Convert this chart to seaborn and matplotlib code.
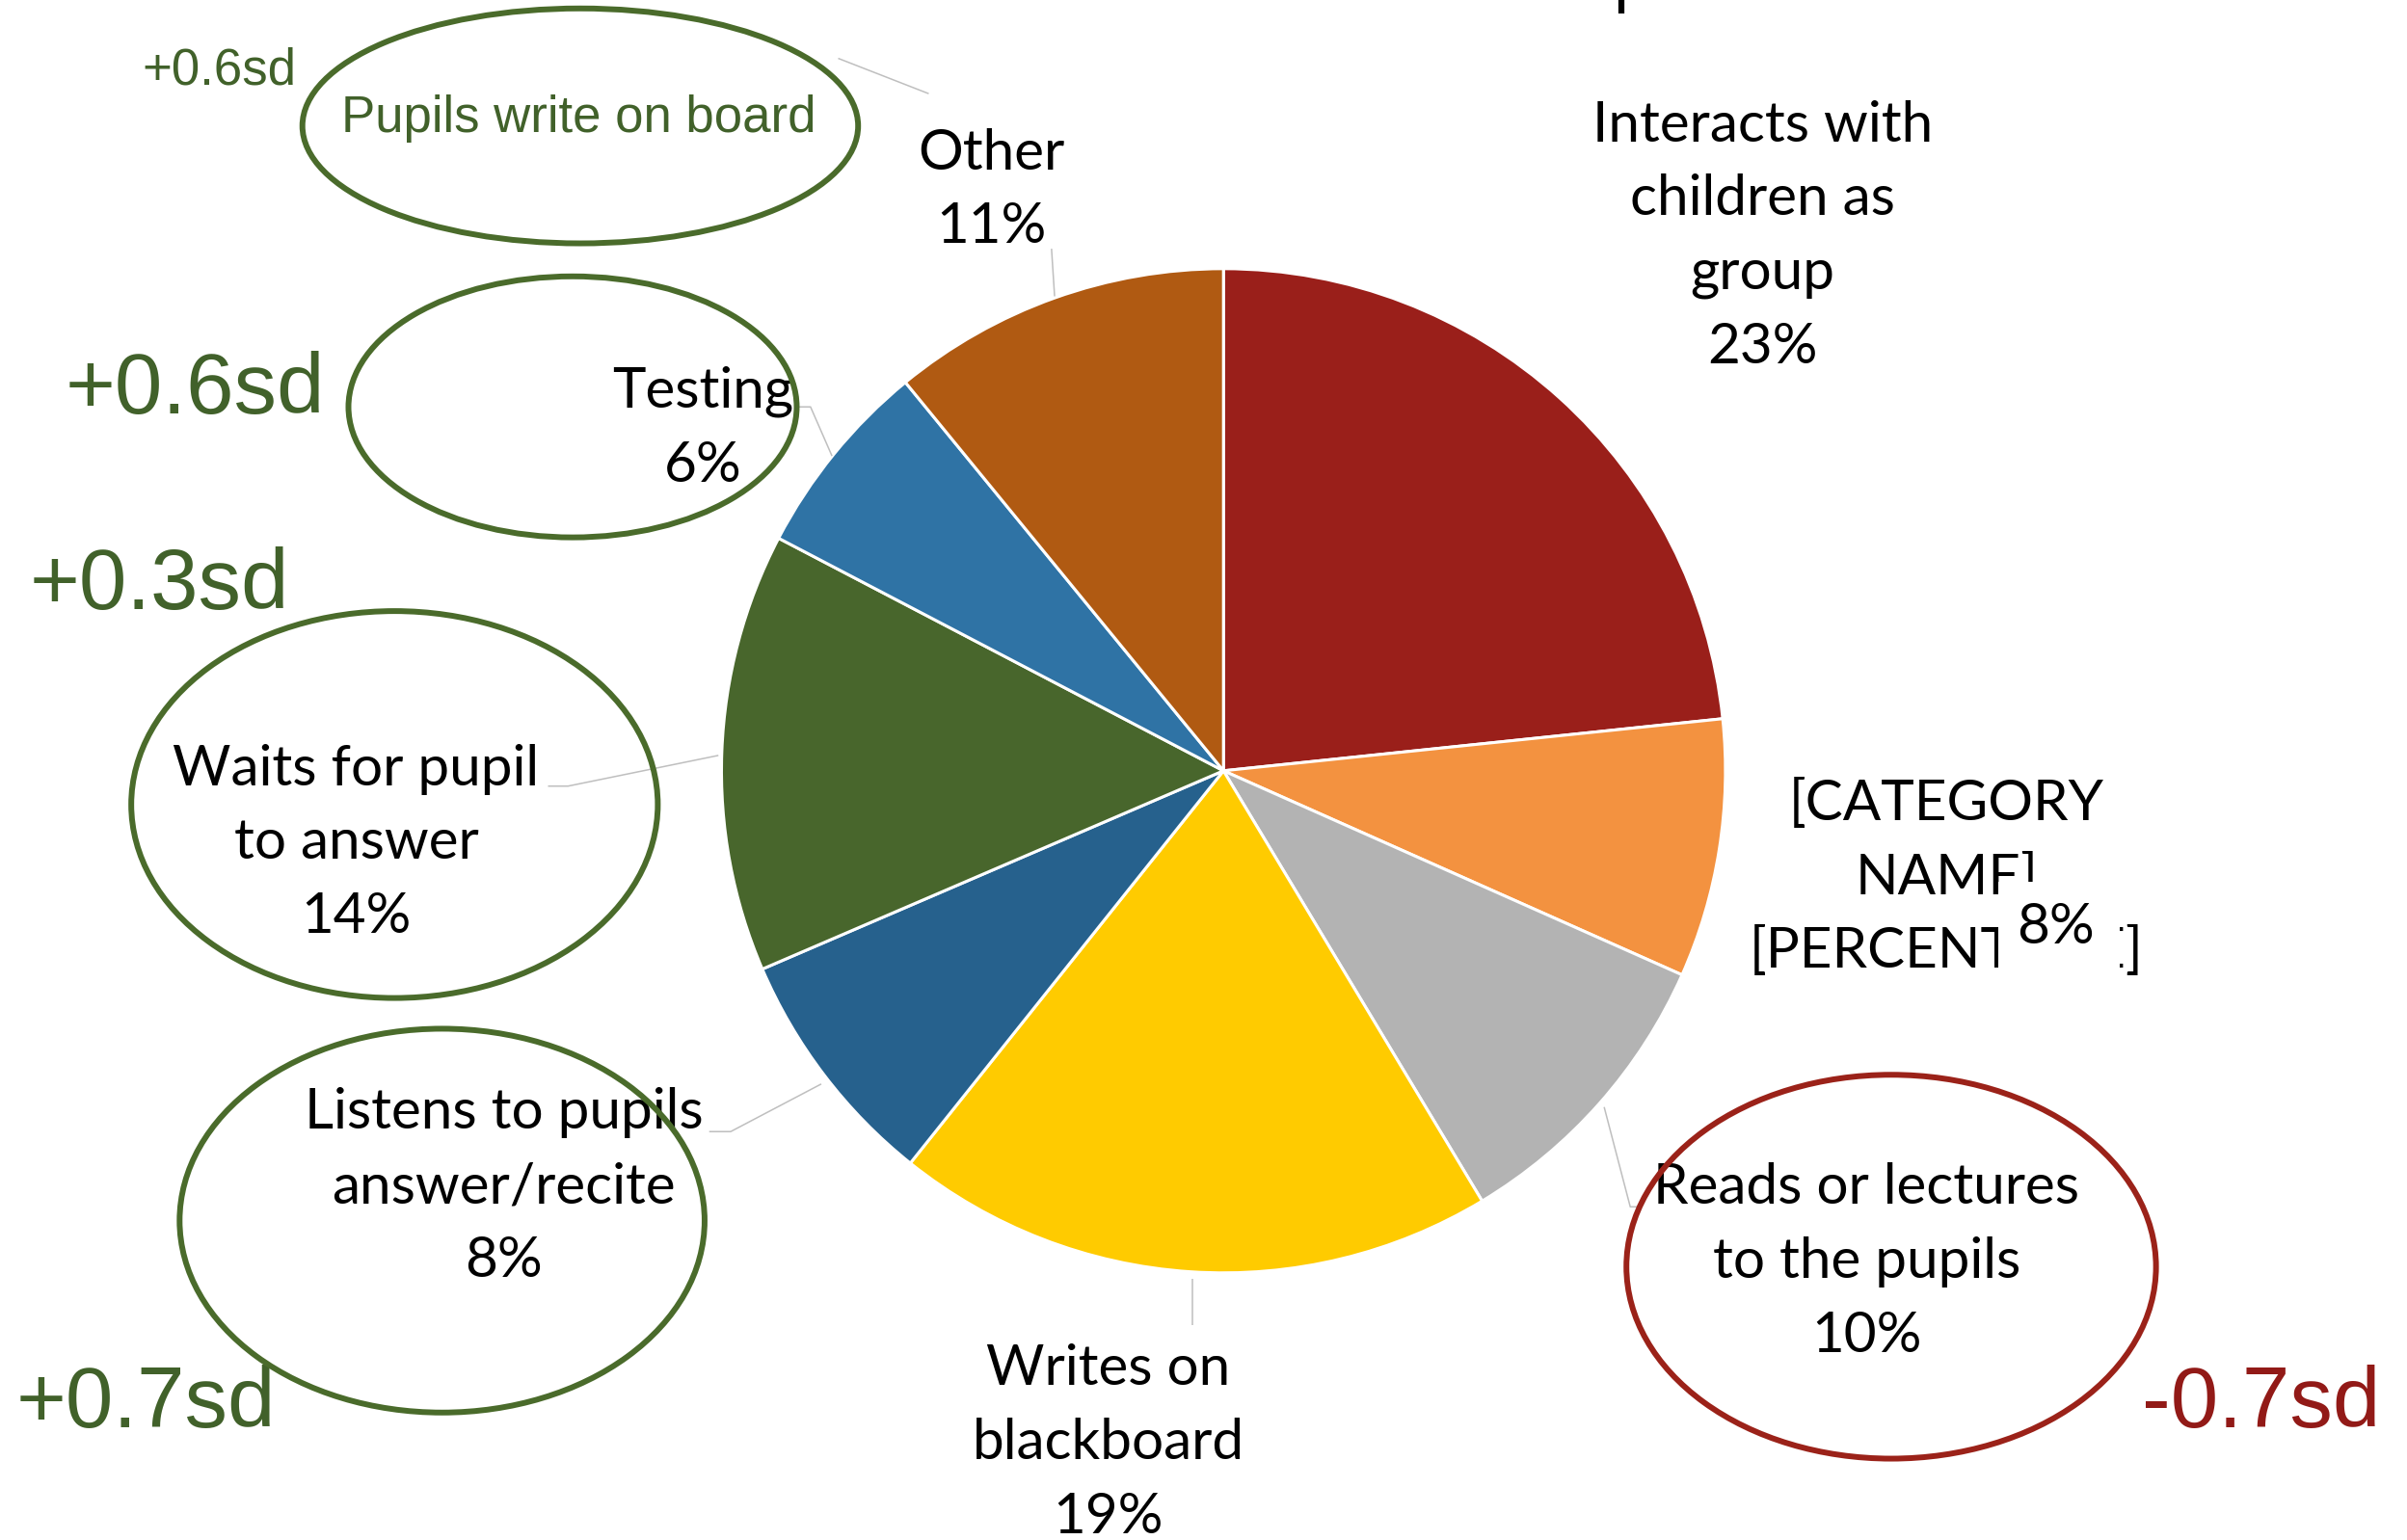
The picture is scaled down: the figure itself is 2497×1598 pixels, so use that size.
import matplotlib
matplotlib.use("Agg")
import matplotlib.pyplot as plt
from matplotlib.patches import Ellipse, Rectangle
import seaborn as sns

# ---- data -------------------------------------------------------------
categories = [
    "Interacts with\nchildren as\ngroup",
    "[CATEGORY\nNAME]\n[PERCENTAGE]",
    "Reads or lectures\nto the pupils",
    "Writes on\nblackboard",
    "Listens to pupils\nanswer/recite",
    "Waits for pupil\nto answer",
    "Testing",
    "Other",
]
shares = [23.3, 8.3, 9.7, 19.3, 7.8, 14.1, 6.4, 10.9]
slice_colors = ["#9A1F1A", "#F39240", "#B3B3B3", "#FFCB00",
                "#26618D", "#48662C", "#2F73A5", "#B05A12"]

effect_labels = ["+0.6sd", "+0.6sd", "+0.3sd", "+0.7sd", "-0.7sd"]
extra_practice = "Pupils write on board"

# ---- style ------------------------------------------------------------
sns.set_theme(style="white")
plt.rcParams["font.family"] = ["Lato", "DejaVu Sans"]

GREEN = "#4A6B2B"
GREEN_TXT = "#41612A"
RED = "#9B2219"
LEADER = "#BFBFBF"
LABEL_FS = 42
SD_FS = 64

W, H = 1568, 1003
fig = plt.figure(figsize=(24.97, 15.98), dpi=100)
ax = fig.add_axes([0, 0, 1, 1])

# y grows downwards here, so the pie runs clockwise from 12 o'clock
ax.pie(shares, colors=slice_colors, startangle=-90, counterclock=True,
       center=(797, 502), radius=327,
       wedgeprops=dict(edgecolor="white", linewidth=2.2))
ax.set_xlim(0, W)
ax.set_ylim(H, 0)
ax.set_aspect("auto")
ax.axis("off")

# ---- slice labels -----------------------------------------------------
label_pos = [(1148, 154), (1268, 572), (1216, 822), (722, 940),
             (328, 773), (232, 549), (458, 279), (646, 124)]
for i, (name, v) in enumerate(zip(categories, shares)):
    x, y = label_pos[i]
    txt = name if i == 1 else f"{name}\n{v:.0f}%"
    ax.text(x, y, txt, ha="center", va="center", multialignment="center",
            fontsize=LABEL_FS, color="black", linespacing=1.55, zorder=4)

# value of the placeholder-labelled slice sits on its own white box
ax.add_patch(Rectangle((1302, 574), 79, 57, facecolor="white",
                       edgecolor="none", zorder=5))
ax.text(1339, 604, f"{shares[1]:.0f}%", ha="center", va="center",
        fontsize=LABEL_FS, color="black", zorder=6)

# ---- leader lines -----------------------------------------------------
leaders = [
    ([687, 685], [193, 162]),                 # Other
    ([519, 528, 542], [265, 265, 297]),       # Testing
    ([357, 370, 468], [512, 512, 492]),       # Waits
    ([462, 476, 535], [737, 737, 706]),       # Listens
    ([1045, 1062, 1068], [721, 786, 786]),    # Reads
    ([777, 777], [833, 863]),                 # Writes
    ([546, 605], [38, 61]),                   # Pupils write on board
]
for xs, ys in leaders:
    ax.plot(xs, ys, color=LEADER, lw=1.1, zorder=3, solid_capstyle="butt")

# ---- highlight ellipses -----------------------------------------------
ellipses = [
    ((378, 82), 362, 153, GREEN),
    ((373, 265), 292, 170, GREEN),
    ((257, 524), 343, 252, GREEN),
    ((288, 795), 342, 250, GREEN),
    ((1232, 825), 345, 250, RED),
]
for (cx, cy), ew, eh, col in ellipses:
    ax.add_patch(Ellipse((cx, cy), ew, eh, facecolor="none",
                         edgecolor=col, lw=4.3, zorder=7))

ax.text(377, 77, extra_practice, ha="center", va="center",
        fontsize=38, color=GREEN_TXT, family=["Liberation Sans"], zorder=4)

# ---- effect sizes -----------------------------------------------------
sd_pos = [(143, 46, 38, GREEN_TXT), (127, 255, SD_FS, GREEN_TXT),
          (104, 382, SD_FS, GREEN_TXT), (95, 915, SD_FS, GREEN_TXT),
          (1473, 915, SD_FS, "#921A17")]
for lab, (x, y, fs, col) in zip(effect_labels, sd_pos):
    ax.text(x, y, lab, ha="center", va="center", fontsize=fs, color=col,
            family=["Liberation Sans"], zorder=4)

# stroke of a heading cut off above the frame
ax.plot([1056, 1056], [0, 9], color="black", lw=4.5, solid_capstyle="butt")

fig.savefig("out.png", dpi=100, facecolor="white")
